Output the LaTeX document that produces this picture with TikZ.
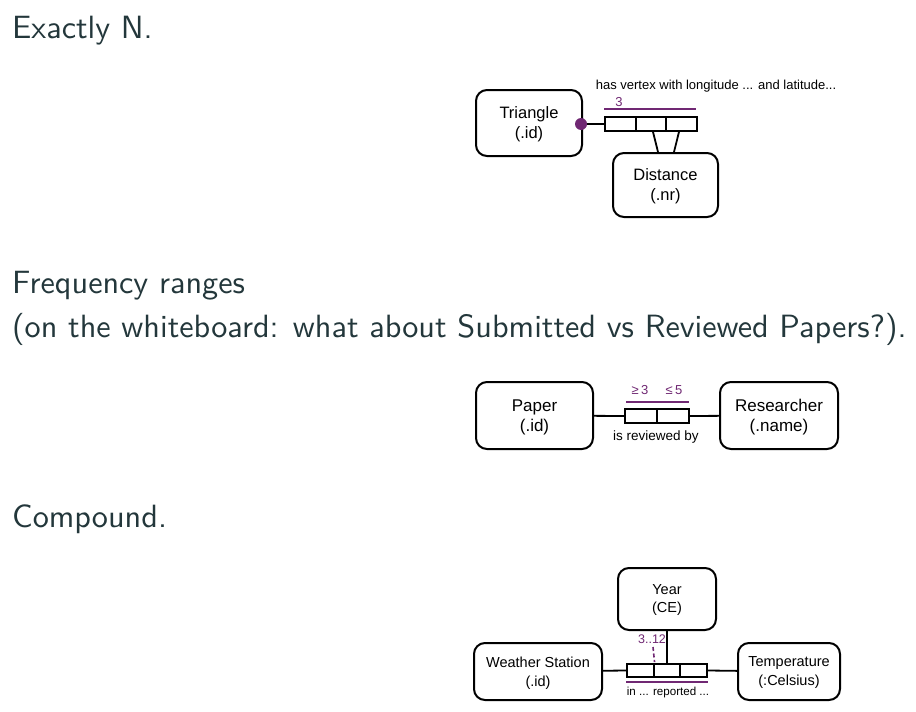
\documentclass[tikz,border=0pt]{standalone}
\usepackage{fontspec}
\newfontfamily\diafont{Liberation Sans}
\usetikzlibrary{calc}
\definecolor{slidetext}{RGB}{35,55,59}
\definecolor{rolepurple}{RGB}{112,40,115}
\newcommand{\dsize}[2]{\diafont\fontsize{#1}{#2}\selectfont}
\newcommand{\heading}[1]{\scalebox{3.22}{\sffamily\fontsize{10}{12}\selectfont #1}}
\tikzset{
  ent/.style={draw, line width=2pt, rounded corners=11pt, align=center, inner sep=0pt, text depth=0pt},
  cell/.style={draw, line width=1.8pt, rectangle, inner sep=0pt},
  conn/.style={line width=1.8pt},
  pbar/.style={draw=rolepurple, line width=1.7pt},
  plabel/.style={text=rolepurple, inner sep=0pt},
  rlabel/.style={inner sep=0pt},
  head/.style={anchor=base west, inner sep=0pt, text=slidetext},
}
\begin{document}
\begin{tikzpicture}[x=1pt,y=-1pt]
\useasboundingbox[fill=white] (0,0) rectangle (916,712);

% ---- headings
\node[head] (h1) at (12,38) {\heading{Exactly N.}};
\node[head] (h2) at (12,293) {\heading{Frequency ranges}};
\node[head] (h3) at (12,337) {\heading{(on the whiteboard: what about Submitted vs Reviewed Papers?).}};
\node[head] (h4) at (12,527) {\heading{Compound.}};

% ---- exactly N
\node[ent, minimum width=106pt, minimum height=66pt, font=\dsize{16.5}{20}] (tri) at (529,123) {Triangle\\(.id)};
\node[ent, minimum width=105pt, minimum height=64pt, font=\dsize{16.5}{20}] (dist) at (665.5,185) {Distance\\(.nr)};
\node[cell, minimum width=30.67pt, minimum height=14pt] (ra) at (620.3,124) {};
\node[cell, minimum width=30.67pt, minimum height=14pt] (rb) at (651,124) {};
\node[cell, minimum width=30.67pt, minimum height=14pt] (rc) at (681.7,124) {};
\node[circle, fill=rolepurple, minimum size=12pt, inner sep=0pt] (dot) at (581,124) {};
\draw[conn] (dot) -- (ra.west);
\draw[conn] ([xshift=2pt]rb.south) -- ([xshift=-7.5pt]dist.north);
\draw[conn] ([xshift=-2.7pt]rc.south) -- ([xshift=8.5pt]dist.north);
\draw[pbar] ([yshift=7pt]ra.north west) -- ([yshift=7pt,xshift=-2pt]rc.north east);
\node[plabel, font=\dsize{13}{15}] (n3) at (619,102) {3};
\node[rlabel, font=\dsize{13}{15}] (l1) at (716,86) {has vertex with longitude ... and latitude...};

% ---- frequency ranges
\node[ent, minimum width=117pt, minimum height=67pt, font=\dsize{17}{20}] (paper) at (534.5,415.5) {Paper\\(.id)};
\node[ent, minimum width=118pt, minimum height=67pt, font=\dsize{17}{20}] (res) at (779,415.5) {Researcher\\(.name)};
\node[cell, minimum width=32pt, minimum height=14pt] (pa) at (641,416) {};
\node[cell, minimum width=32pt, minimum height=14pt] (pb) at (673,416) {};
\draw[conn] (paper) -- (pa.west);
\draw[conn] (pb.east) -- (res);
\draw[pbar] ([yshift=6pt,xshift=2pt]pa.north west) -- ([yshift=6pt,xshift=-1pt]pb.north east);
\node[plabel, font=\dsize{13}{15}] (ge) at (640,390) {≥\,3};
\node[plabel, font=\dsize{13}{15}] (le) at (674,390) {≤\,5};
\node[rlabel, font=\dsize{13.5}{15}] (l2) at (656,437) {is reviewed by};

% ---- compound
\node[ent, minimum width=98pt, minimum height=62pt, font=\dsize{14.5}{18}] (year) at (667,599) {Year\\(CE)};
\node[ent, minimum width=128pt, minimum height=57pt, font=\dsize{14.5}{19}] (ws) at (538,671.5) {Weather Station\\(.id)};
\node[ent, minimum width=102pt, minimum height=57pt, font=\dsize{14.5}{19}] (temp) at (789,671.5) {Temperature\\(:Celsius)};
\node[cell, minimum width=26.67pt, minimum height=13pt] (ca) at (640.3,670.5) {};
\node[cell, minimum width=26.67pt, minimum height=13pt] (cb) at (667,670.5) {};
\node[cell, minimum width=26.67pt, minimum height=13pt] (cc) at (693.7,670.5) {};
\draw[conn] (ws) -- (ca.west);
\draw[conn] (cc.east) -- (temp);
\draw[conn] (year) -- (cb.north);
\coordinate (dtop) at (653,647);
\draw[draw=rolepurple, line width=1.6pt, dash pattern=on 4pt off 2.5pt] (dtop) -- ([yshift=1pt]ca.north east);
\draw[pbar] ([yshift=-4pt]ca.south west) -- ([yshift=-4pt]cc.south east);
\node[plabel, font=\dsize{12.5}{14}] (r312) at (652,639) {3..12};
\node[rlabel, font=\dsize{11.6}{14}] (l3) at (668,692) {in ... reported ...};
\end{tikzpicture}
\end{document}
